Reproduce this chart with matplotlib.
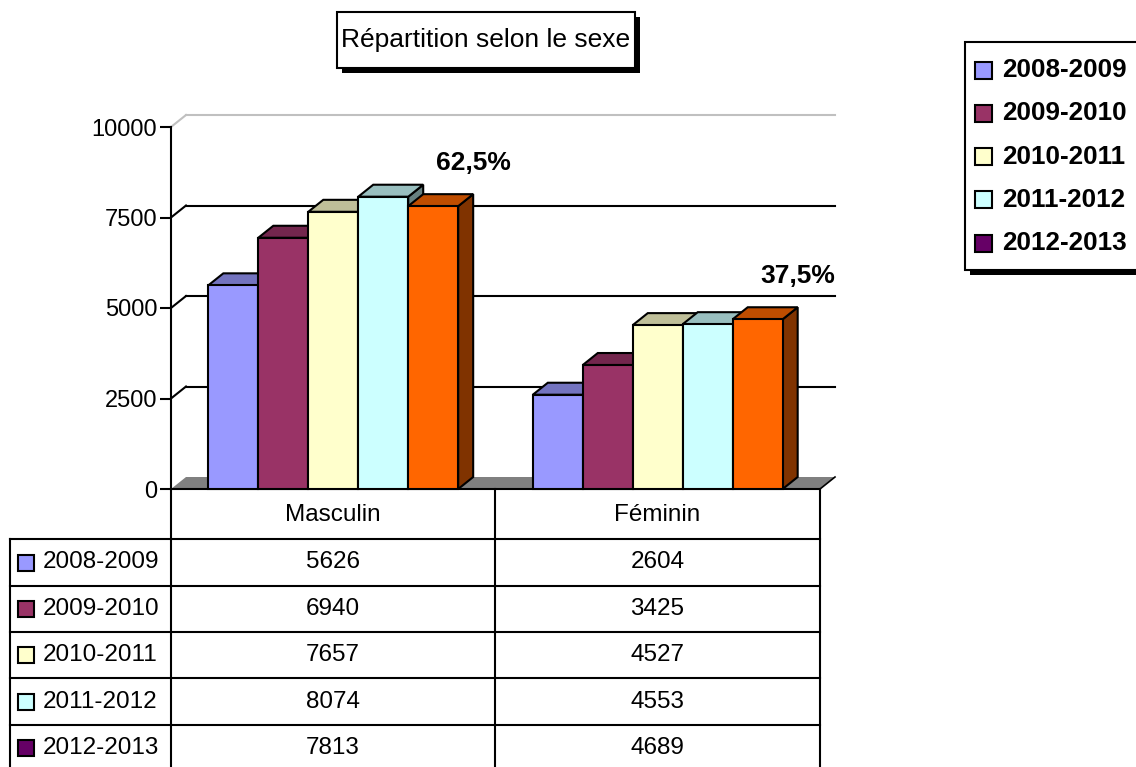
import matplotlib
matplotlib.use("Agg")
import matplotlib.pyplot as plt
from matplotlib.patches import Polygon, Rectangle
from matplotlib.colors import to_rgb

categories = ["Masculin", "Féminin"]
years = ["2008-2009", "2009-2010", "2010-2011", "2011-2012", "2012-2013"]
masculin = [5626, 6940, 7657, 8074, 7813]
feminin = [2604, 3425, 4527, 4553, 4689]
bar_colors = ["#9999FF", "#993366", "#FFFFCC", "#CCFFFF", "#FF6600"]
key_colors = ["#9999FF", "#993366", "#FFFFCC", "#CCFFFF", "#660066"]
yticks = [0, 2500, 5000, 7500, 10000]

plt.rcParams["font.family"] = ["Liberation Sans", "DejaVu Sans"]

W, H = 1136, 767
fig = plt.figure(figsize=(W / 100, H / 100), dpi=100)

# front frame of the plot area (pixels)
X0, X1, Y0, Y1 = 171, 820, 489, 127
ax = fig.add_axes([X0 / W, 1 - Y0 / H, (X1 - X0) / W, (Y0 - Y1) / H])
ax.set_xlim(0, 2)
ax.set_ylim(0, 10000)
for s in ["top", "right", "bottom"]:
    ax.spines[s].set_visible(False)
ax.spines["left"].set_linewidth(1.5)
ax.set_xticks([])
ax.set_yticks(yticks)
ax.set_yticklabels([str(v) for v in yticks], fontsize=17)
ax.tick_params(axis="y", length=8, width=1.5, pad=2)
ax.patch.set_alpha(0)

# depth of the fake 3d
dx = 15 / ((X1 - X0) / 2)
dy = 12 / ((Y0 - Y1) / 10000)

# floor and back wall
ax.add_patch(Polygon([(0, 0), (2, 0), (2 + dx, dy), (dx, dy)], fc="#808080",
                     ec="none", clip_on=False, zorder=1))
ax.plot([0, 2], [0, 0], color="black", lw=1.5, clip_on=False, zorder=2)
ax.plot([2, 2 + dx], [0, dy], color="black", lw=1.2, clip_on=False, zorder=2)
for v in yticks[1:]:
    c = "#C0C0C0" if v == yticks[-1] else "black"
    ax.plot([dx, 2 + dx], [v + dy, v + dy], color=c, lw=1.5, clip_on=False, zorder=1)
    ax.plot([0, dx], [v, v + dy], color=c, lw=1.5, clip_on=False, zorder=1)


def shade(col, k):
    r, g, b = to_rgb(col)
    return (r * k, g * k, b * k)


width = 0.154
for ci, vals in enumerate([masculin, feminin]):
    center = ci + 0.5
    for i, v in enumerate(vals):
        x0 = center + (i - 2.5) * width
        x1 = x0 + width
        z = 3 + i * 0.1
        ax.add_patch(Polygon([(x1, 0), (x1 + dx, dy), (x1 + dx, v + dy), (x1, v)],
                             fc=shade(bar_colors[i], 0.5), ec="black", lw=1.5,
                             clip_on=False, zorder=z))
        ax.add_patch(Polygon([(x0, v), (x1, v), (x1 + dx, v + dy), (x0 + dx, v + dy)],
                             fc=shade(bar_colors[i], 0.75), ec="black", lw=1.5,
                             clip_on=False, zorder=z))
        ax.bar(x0, v, width, align="edge", color=bar_colors[i], edgecolor="black",
               lw=1.5, zorder=z + 0.01, clip_on=False)
    # share of the last year
    last = [masculin[-1], feminin[-1]]
    pct = vals[-1] / sum(last) * 100
    xr = center + 2.5 * width + dx
    ax.text(xr, vals[-1] + 1190, f"{pct:.1f}%".replace(".", ","), ha="center",
            va="center", fontsize=19, fontweight="bold", zorder=10)

# overlay in pixel coordinates: table, legend, title
ov = fig.add_axes([0, 0, 1, 1])
ov.set_xlim(0, W)
ov.set_ylim(H, 0)
ov.axis("off")
ov.patch.set_alpha(0)

col_x = [10, 171, 495, 820]
row_y = [539, 586, 632, 678, 725, 771]
for x in col_x[1:]:
    ov.plot([x, x], [489, row_y[-1]], color="black", lw=1.5)
ov.plot([col_x[0], col_x[0]], [row_y[0], row_y[-1]], color="black", lw=1.5)
for y in row_y:
    ov.plot([col_x[0], col_x[-1]], [y, y], color="black", lw=1.5)
centers = [(col_x[1] + col_x[2]) / 2, (col_x[2] + col_x[3]) / 2]
for cx, name in zip(centers, categories):
    ov.text(cx, 515, name, ha="center", va="center", fontsize=17.5)
for r, yr in enumerate(years):
    yc = (row_y[r] + row_y[r + 1]) / 2
    ov.add_patch(Rectangle((18, yc - 8), 16, 16, fc=key_colors[r], ec="black", lw=1.5))
    ov.text(43, yc, yr, ha="left", va="center", fontsize=17.5)
    ov.text(centers[0], yc, str(masculin[r]), ha="center", va="center", fontsize=17.5)
    ov.text(centers[1], yc, str(feminin[r]), ha="center", va="center", fontsize=17.5)

# legend box
ov.add_patch(Rectangle((970, 47), 220, 228, fc="black", ec="none"))
ov.add_patch(Rectangle((965, 42), 220, 228, fc="white", ec="black", lw=1.5))
for r, yr in enumerate(years):
    yc = 70 + r * 43.3
    ov.add_patch(Rectangle((975, yc - 8.5), 17, 17, fc=key_colors[r], ec="black", lw=1.5))
    ov.text(1002, yc, yr, ha="left", va="center", fontsize=18.8, fontweight="bold")

# title box
ov.add_patch(Rectangle((342, 17), 298, 56, fc="black", ec="none"))
ov.add_patch(Rectangle((337, 12), 298, 56, fc="white", ec="black", lw=1.5))
ov.text(486, 40, "Répartition selon le sexe", ha="center", va="center", fontsize=19)

fig.savefig("out.png", dpi=100)
